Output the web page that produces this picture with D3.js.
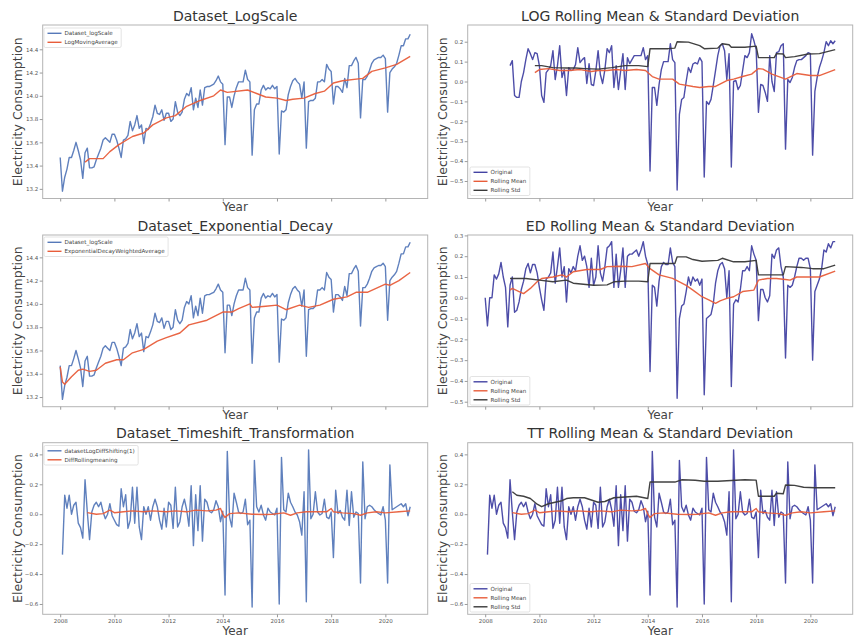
<!DOCTYPE html>
<html><head><meta charset="utf-8">
<script src="https://cdn.jsdelivr.net/npm/d3@7"></script>
<style>body{margin:0;background:#fff}svg{display:block}text{font-family:"DejaVu Sans",sans-serif}</style>
</head><body><svg id="c" width="854" height="639"></svg>
<script>
// ---------- DATA (monthly, Jan 2008 = month 0 ... Dec 2020 = month 155) ----------
const xTickMonths = [0, 24, 48, 72, 96, 120, 144];
const xTickLabels = ['2008', '2010', '2012', '2014', '2016', '2018', '2020'];

const logScale = [
 13.47,13.18,13.30,13.37,13.47,13.47,13.53,13.60,13.53,13.45,13.29,13.51,
 13.55,13.38,13.38,13.39,13.45,13.50,13.55,13.62,13.64,13.62,13.60,13.67,
 13.67,13.62,13.55,13.47,13.62,13.63,13.66,13.78,13.70,13.75,13.83,13.72,
 13.75,13.59,13.72,13.71,13.76,13.82,13.92,13.85,13.84,13.88,13.79,13.85,
 13.85,13.78,13.80,13.95,13.86,13.83,13.86,13.97,14.02,14.00,14.07,13.88,
 13.98,13.90,14.05,13.92,14.07,14.08,14.08,14.09,14.10,14.13,14.17,14.12,
 14.10,13.58,13.99,13.99,13.90,14.00,14.07,14.12,14.12,14.12,14.22,14.14,
 14.12,13.49,13.88,13.93,13.93,14.05,14.09,14.05,14.07,14.06,14.09,14.06,
 14.08,13.50,13.87,13.86,13.88,14.01,14.08,14.13,14.15,14.12,14.10,13.98,
 14.12,13.55,13.95,13.96,13.96,13.98,14.12,14.12,14.14,14.12,14.27,14.23,
 14.21,13.93,14.08,14.08,14.06,14.03,14.15,14.07,14.26,14.26,14.30,14.33,
 14.28,13.81,14.14,14.14,14.17,14.22,14.28,14.31,14.32,14.33,14.33,14.35,
 14.32,13.86,14.20,14.23,14.25,14.28,14.35,14.43,14.43,14.49,14.49,14.53];

const logMAMonths = [11,13,19,22,26,32,37,41,47,51,56,62,68,71,74,83,87,91,96,100,103,108,113,117,121,125,134,138,144,149,155];
const logMAValues = [13.43,13.46,13.46,13.52,13.58,13.65,13.68,13.75,13.81,13.83,13.91,13.96,14.00,14.05,14.03,14.05,14.02,13.99,13.98,13.96,13.97,13.98,14.02,14.04,14.11,14.13,14.15,14.21,14.24,14.27,14.34];

// log minus moving average, starts at month 11
const logDiffStart = 11;
const logDiff = [
 0.08,0.105,-0.07,-0.08,-0.08,0.0,0.045,0.11,0.165,0.14,0.11,0.145,0.14,
 0.08,-0.07,-0.105,0.045,0.06,0.08,0.155,0.01,0.08,0.18,0.02,0.06,
 -0.07,0.07,0.055,0.06,0.085,0.17,0.095,0.11,0.12,-0.01,0.09,-0.015,
 -0.02,0.055,0.155,0.035,-0.01,0.06,0.165,0.145,0.18,-0.03,0.08,-0.04,
 0.055,0.14,-0.04,0.12,0.09,0.11,0.13,0.13,0.13,0.13,0.17,0.11,
 0.13,-0.45,-0.03,-0.03,-0.12,-0.015,0.06,0.10,0.10,0.10,0.19,0.11,
 0.095,-0.545,-0.165,-0.09,-0.08,0.0,0.07,0.045,0.088,0.095,0.088,0.12,
 0.10,-0.48,-0.10,-0.115,-0.09,-0.02,0.055,0.13,0.18,0.19,0.155,0.01,
 0.14,-0.43,0.0,0.005,-0.04,-0.02,0.055,0.13,0.12,0.145,0.24,0.205,
 0.16,-0.155,-0.015,-0.02,-0.055,-0.10,0.13,0.0,-0.05,0.145,0.15,0.18,
 0.19,-0.34,0.01,-0.005,0.02,0.07,0.105,0.11,0.11,0.12,0.13,0.145,
 0.14,-0.37,-0.05,0.02,0.07,0.105,0.145,0.2,0.18,0.205,0.19,0.205];
const logRollMeanMonths = [22,24,28,33,37,42,47,50,54,58,62,67,71,74,77,83,86,92,95,99,102,107,110,114,118,121,123,127,133,138,144,148,155];
const logRollMeanValues = [0.045,0.06,0.065,0.055,0.055,0.06,0.05,0.055,0.055,0.06,0.055,0.06,0.055,0.025,0.012,0.012,-0.013,-0.025,-0.03,-0.025,-0.025,0.005,0.012,0.025,0.037,0.065,0.062,0.037,0.012,0.04,0.03,0.03,0.06];
const logRollStdMonths = [22,25,30,36,40,44,50,56,62,68,72,73,77,81,84,85,90,95,97,103,105,108,109,115,120,121,128,129,132,133,137,143,148,155];
const logRollStdValues = [0.08,0.08,0.07,0.068,0.068,0.065,0.062,0.07,0.08,0.08,0.075,0.165,0.165,0.165,0.168,0.2,0.198,0.18,0.165,0.168,0.19,0.185,0.172,0.172,0.178,0.12,0.12,0.14,0.138,0.12,0.125,0.138,0.14,0.16];

const ewmaMonths = [0,1,2,5,8,10,13,16,20,25,28,32,37,43,47,53,57,65,72,76,79,84,85,91,96,100,106,110,115,121,127,131,136,144,146,150,155];
const ewmaValues = [13.46,13.33,13.31,13.375,13.43,13.44,13.42,13.43,13.49,13.52,13.52,13.58,13.61,13.68,13.71,13.75,13.82,13.86,13.93,13.93,13.96,14.0,13.97,13.98,13.99,13.95,13.99,13.97,13.99,14.04,14.06,14.10,14.10,14.17,14.16,14.20,14.27];

// log minus EWMA, starts at month 0
const edDiff = [
 0.0,-0.135,0.0,0.0,0.11,0.09,0.115,0.17,0.10,0.05,-0.14,0.06,
 0.10,-0.07,-0.06,-0.02,0.04,0.08,0.14,0.165,0.12,0.16,0.16,0.12,
 0.05,-0.01,-0.06,0.09,0.10,0.12,0.22,0.07,0.15,0.24,0.10,0.15,
 -0.02,0.14,0.12,0.15,0.13,0.20,0.25,0.18,0.20,0.15,0.05,0.19,
 0.06,0.10,0.25,0.12,0.08,0.15,0.24,0.25,0.27,0.05,0.21,0.05,
 0.13,0.24,0.05,0.20,0.21,0.21,0.22,0.23,0.20,0.23,0.27,0.20,
 0.16,-0.355,0.06,0.05,-0.04,0.08,0.15,0.17,0.16,0.16,0.24,0.17,
 0.15,-0.483,-0.10,-0.04,-0.03,0.03,0.10,0.06,0.10,0.08,0.09,0.06,
 0.09,-0.467,-0.10,-0.09,-0.08,-0.03,0.07,0.13,0.16,0.17,0.14,0.0,
 0.13,-0.427,-0.03,-0.01,-0.02,0.04,0.13,0.13,0.15,0.13,0.25,0.21,
 0.18,-0.11,0.04,0.04,0.0,-0.02,0.01,0.21,0.19,0.23,0.24,0.15,
 0.10,-0.29,0.06,0.05,0.06,0.10,0.15,0.19,0.19,0.18,0.19,0.19,
 0.14,-0.30,0.03,0.06,0.09,0.14,0.23,0.22,0.26,0.24,0.27,0.27];
const edRollMeanMonths = [11,12,15,17,20,23,25,30,34,36,39,45,51,54,60,65,71,73,77,83,89,92,96,99,102,104,107,110,114,119,121,125,129,133,135,138,144,148,155];
const edRollMeanValues = [0.037,0.045,0.03,0.02,0.045,0.077,0.093,0.10,0.11,0.10,0.125,0.136,0.136,0.15,0.152,0.15,0.165,0.14,0.11,0.093,0.06,0.037,0.005,-0.01,-0.027,-0.015,-0.003,0.005,0.03,0.037,0.085,0.093,0.093,0.088,0.085,0.10,0.10,0.10,0.128];
const edRollStdMonths = [11,18,24,30,36,39,48,54,57,62,68,72,73,84,85,89,92,96,103,105,110,115,120,121,132,133,140,145,150,155];
const edRollStdValues = [0.093,0.093,0.085,0.077,0.085,0.07,0.06,0.062,0.077,0.08,0.08,0.077,0.165,0.165,0.197,0.197,0.184,0.176,0.18,0.19,0.173,0.173,0.18,0.11,0.11,0.15,0.146,0.14,0.14,0.157];

// first difference of log (shift 1), starts at month 1
const diffStart = 1;
const diffShift = [
 -0.27,0.127,0.04,0.127,0.0,0.06,0.08,-0.06,-0.09,-0.16,0.23,
 0.015,-0.17,0.015,0.06,0.08,0.05,0.08,0.015,-0.03,0.0,0.07,-0.01,
 -0.04,-0.07,-0.08,0.17,0.05,0.13,-0.095,-0.04,0.18,-0.06,0.18,-0.085,
 -0.17,0.05,0.0,0.05,-0.04,0.05,0.10,0.05,-0.04,-0.10,0.04,-0.085,
 0.08,0.06,-0.095,0.18,-0.085,-0.05,0.05,0.10,0.03,-0.08,0.19,-0.21,
 0.13,-0.11,0.19,-0.18,0.10,0.08,0.02,0.01,0.03,0.09,0.05,-0.05,
 0.02,-0.54,0.42,-0.02,-0.085,0.14,0.08,0.015,0.005,0.015,0.10,-0.07,
 -0.04,-0.62,0.36,0.05,0.015,0.06,-0.005,-0.04,0.04,0.015,0.005,-0.005,
 0.04,-0.60,0.38,0.03,0.015,0.14,0.08,0.05,0.015,-0.005,-0.05,-0.14,
 0.15,-0.585,0.43,-0.03,0.0,0.15,0.015,-0.005,0.005,0.10,-0.02,-0.03,
 0.015,-0.29,0.16,0.005,0.025,-0.02,-0.04,0.16,-0.075,0.15,-0.02,0.015,
 0.005,-0.46,0.35,-0.03,0.05,0.06,0.05,0.03,0.015,0.005,-0.005,0.05,
 -0.04,-0.46,0.33,0.03,0.04,0.05,0.06,0.07,0.05,0.07,-0.01,0.05];
const diffRollMeanMonths = [12,16,19,22,24,28,32,37,41,47,51,56,60,65,69,71,72,73,75,79,85,90,94,99,102,105,109,113,118,120,121,125,130,133,136,140,144,150,155];
const diffRollMeanValues = [0.011,0.0,0.004,0.027,0.01,0.016,0.022,0.016,0.022,0.016,0.022,0.016,0.027,0.022,0.027,0.038,0.0,-0.022,0.004,0.009,0.0,-0.002,0.0,0.009,-0.007,0.009,0.016,0.016,0.016,0.038,0.016,0.009,0.004,-0.007,0.009,0.016,0.009,0.016,0.022];
const diffRollStdMonths = [12,14,17,20,23,25,28,31,34,36,39,44,48,50,53,57,62,67,72,73,78,84,87,93,97,103,109,115,120,121,128,129,132,133,137,141,146,151,155];
const diffRollStdValues = [0.15,0.127,0.12,0.105,0.067,0.05,0.07,0.08,0.09,0.105,0.11,0.11,0.09,0.08,0.085,0.11,0.115,0.12,0.105,0.215,0.215,0.215,0.23,0.227,0.22,0.22,0.225,0.23,0.228,0.12,0.12,0.14,0.137,0.195,0.193,0.18,0.177,0.178,0.177];

// ---------- DRAWING ----------
const BLUE = '#5679b9', RED = '#e85d3a', NAVY = '#4343a3', DARK = '#383838';
const svg = d3.select('#c');
const monthsOf = (start, arr) => arr.map((v, k) => start + k);
const xDomain = [-7.75, 162.75];
const colX = [42.7, 467.7], W = 385;
const rows = [{y: 25, h: 173.5, title: 21, xl: 206.5}, {y: 235, h: 171.7, title: 230.5, xl: 414.5}, {y: 442.7, h: 171.6, title: 437.5, xl: 631}];

const panels = [
 {c:0, r:0, title:'Dataset_LogScale', yd:[13.117,14.609], yt:[13.2,13.4,13.6,13.8,14.0,14.2,14.4],
  series:[{m:monthsOf(0,logScale), v:logScale, col:BLUE},{m:logMAMonths, v:logMAValues, col:RED}],
  leg:{x:44, y:28, items:[['Dataset_logScale',BLUE],['LogMovingAverage',RED]]}},
 {c:1, r:0, title:'LOG Rolling Mean & Standard Deviation', yd:[-0.588,0.284], yt:[-0.5,-0.4,-0.3,-0.2,-0.1,0.0,0.1,0.2],
  series:[{m:monthsOf(logDiffStart,logDiff), v:logDiff, col:NAVY},{m:logRollMeanMonths, v:logRollMeanValues, col:RED},{m:logRollStdMonths, v:logRollStdValues, col:DARK}],
  leg:{x:470, y:167, items:[['Original',NAVY],['Rolling Mean',RED],['Rolling Std',DARK]]}},
 {c:0, r:1, title:'Dataset_Exponential_Decay', yd:[13.117,14.592], yt:[13.2,13.4,13.6,13.8,14.0,14.2,14.4],
  series:[{m:monthsOf(0,logScale), v:logScale, col:BLUE},{m:ewmaMonths, v:ewmaValues, col:RED}],
  leg:{x:44, y:237, items:[['Dataset_logScale',BLUE],['ExponentialDecayWeightedAverage',RED]]}},
 {c:1, r:1, title:'ED Rolling Mean & Standard Deviation', yd:[-0.524,0.302], yt:[-0.5,-0.4,-0.3,-0.2,-0.1,0.0,0.1,0.2,0.3],
  series:[{m:monthsOf(0,edDiff), v:edDiff, col:NAVY},{m:edRollMeanMonths, v:edRollMeanValues, col:RED},{m:edRollStdMonths, v:edRollStdValues, col:DARK}],
  leg:{x:470, y:376.5, items:[['Original',NAVY],['Rolling Mean',RED],['Rolling Std',DARK]]}},
 {c:0, r:2, title:'Dataset_Timeshift_Transformation', yd:[-0.669,0.478], yt:[-0.6,-0.4,-0.2,0.0,0.2,0.4], xlab:true,
  series:[{m:monthsOf(diffStart,diffShift), v:diffShift, col:BLUE},{m:diffRollMeanMonths, v:diffRollMeanValues, col:RED}],
  leg:{x:44, y:445.5, items:[['datasetLogDiffShifting(1)',BLUE],['DiffRollingmeaning',RED]]}},
 {c:1, r:2, title:'TT Rolling Mean & Standard Deviation', yd:[-0.669,0.478], yt:[-0.6,-0.4,-0.2,0.0,0.2,0.4], xlab:true,
  series:[{m:monthsOf(diffStart,diffShift), v:diffShift, col:NAVY},{m:diffRollMeanMonths, v:diffRollMeanValues, col:RED},{m:diffRollStdMonths, v:diffRollStdValues, col:DARK}],
  leg:{x:470, y:583.5, items:[['Original',NAVY],['Rolling Mean',RED],['Rolling Std',DARK]]}}
];

panels.forEach((p, pi) => {
  const R = rows[p.r], x0 = colX[p.c];
  const x = d3.scaleLinear().domain(xDomain).range([x0, x0 + W]);
  const y = d3.scaleLinear().domain(p.yd).range([R.y + R.h, R.y]);
  const g = svg.append('g');
  const cid = 'clip' + pi;
  svg.append('clipPath').attr('id', cid).append('rect').attr('x', x0).attr('y', R.y).attr('width', W).attr('height', R.h);
  const lg = g.append('g').attr('clip-path', `url(#${cid})`);
  p.series.forEach(s => {
    const pts = s.m.map((m, k) => [m, s.v[k]]);
    lg.append('path').datum(pts)
      .attr('d', d3.line().x(d => x(d[0])).y(d => y(d[1])))
      .attr('fill', 'none').attr('stroke', s.col).attr('stroke-width', 1.4)
      .attr('stroke-linejoin', 'round').attr('opacity', 0.95);
  });
  // spines
  g.append('rect').attr('x', x0).attr('y', R.y).attr('width', W).attr('height', R.h)
    .attr('fill', 'none').attr('stroke', '#b4b4b4').attr('stroke-width', 1);
  // y axis
  const ya = g.append('g').attr('transform', `translate(${x0},0)`)
    .call(d3.axisLeft(y).tickValues(p.yt).tickFormat(d3.format('.1f')).tickSize(3).tickPadding(1.5));
  // x axis
  const xa = g.append('g').attr('transform', `translate(0,${R.y + R.h})`)
    .call(d3.axisBottom(x).tickValues(xTickMonths).tickFormat((d, k) => p.xlab ? xTickLabels[k] : '').tickSize(3).tickPadding(2));
  [ya, xa].forEach(a => {
    a.select('.domain').remove();
    a.selectAll('line').attr('stroke', '#9a9a9a');
    a.selectAll('text').attr('fill', '#555').style('font-size', '5.5px');
  });
  // title
  g.append('text').attr('x', x0 + W / 2).attr('y', R.title).attr('text-anchor', 'middle')
    .attr('fill', '#333').style('font-size', '14px').text(p.title);
  // x label
  g.append('text').attr('x', x0 + W / 2).attr('y', R.xl).attr('text-anchor', 'middle')
    .attr('dominant-baseline', 'central').attr('fill', '#444').style('font-size', '12px').text('Year');
  // y label
  const ylx = x0 - 25.7, yly = R.y + R.h / 2;
  g.append('text').attr('transform', `translate(${ylx},${yly}) rotate(-90)`).attr('text-anchor', 'middle')
    .attr('dominant-baseline', 'central').attr('fill', '#444').style('font-size', '12.5px').text('Electricity Consumption');
  // legend
  const L = p.leg, gap = 9;
  const lgG = g.append('g');
  const box = lgG.append('rect').attr('x', L.x).attr('y', L.y).attr('rx', 1.5)
    .attr('fill', '#fff').attr('fill-opacity', 0.85).attr('stroke', '#d0d0d0').attr('stroke-width', 0.6);
  let maxW = 0;
  L.items.forEach((it, k) => {
    const cy = L.y + 5.3 + k * gap;
    lgG.append('line').attr('x1', L.x + 3.5).attr('x2', L.x + 17.5).attr('y1', cy).attr('y2', cy)
      .attr('stroke', it[1]).attr('stroke-width', 1.4);
    const t = lgG.append('text').attr('x', L.x + 20.5).attr('y', cy).attr('dominant-baseline', 'central')
      .attr('fill', '#444').style('font-size', '5.6px').text(it[0]);
    maxW = Math.max(maxW, t.node().getComputedTextLength());
  });
  box.attr('width', 20.5 + maxW + 3.5).attr('height', L.items.length * gap + 1.5);
});
</script></body></html>
